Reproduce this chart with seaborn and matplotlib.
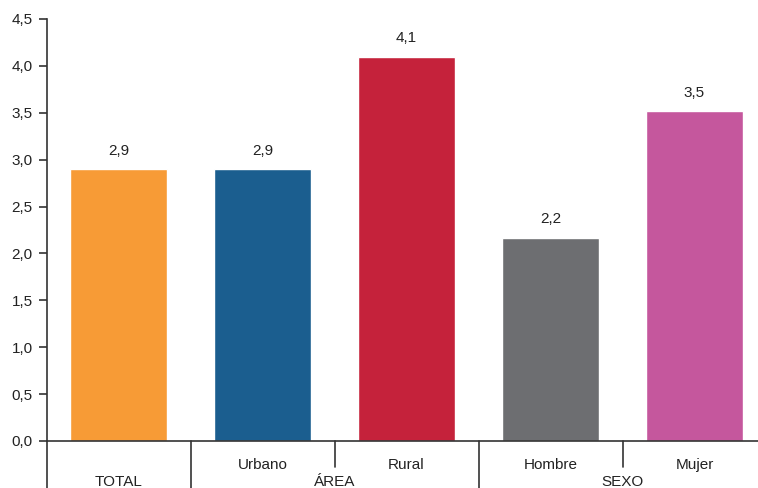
import numpy as np
import pandas as pd
import seaborn as sns
import matplotlib.pyplot as plt
import matplotlib.transforms as mtransforms

categories = ["TOTAL", "Urbano", "Rural", "Hombre", "Mujer"]
values = [2.9, 2.9, 4.1, 2.17, 3.52]
tick_labels = ["", "Urbano", "Rural", "Hombre", "Mujer"]
colors = ["#F79B36", "#1B5E8F", "#C5223B", "#6D6E71", "#C5579D"]
groups = [("TOTAL", 0.0), ("ÁREA", 1.5), ("SEXO", 3.5)]

sns.set_theme(style="white")
plt.rcParams["font.family"] = ["Liberation Sans", "DejaVu Sans"]

df = pd.DataFrame({"cat": categories, "val": values})

fig = plt.figure(figsize=(7.58, 4.88), dpi=100)
ax = fig.add_axes([46.5 / 758, 47 / 488, 720 / 758, 422 / 488])

sns.barplot(data=df, x="cat", y="val", hue="cat", palette=colors,
            width=0.667, legend=False, ax=ax, saturation=1)

fs = 11
ax.set_xlim(-0.5, 4.5)
ax.set_ylim(0, 4.5)
ax.set_yticks(np.arange(0, 4.51, 0.5))
ax.set_yticklabels([f"{v:.1f}".replace(".", ",") for v in np.arange(0, 4.51, 0.5)],
                   fontsize=fs, color="#222222")
ax.set_xticks(range(len(categories)))
ax.set_xticklabels(tick_labels, fontsize=fs, color="#222222")
ax.tick_params(axis="x", length=0, pad=12)
ax.tick_params(axis="y", length=6, width=1.2, color="#333333", direction="out", left=True, pad=4)
ax.set_xlabel("")
ax.set_ylabel("")

for side in ["top", "right"]:
    ax.spines[side].set_visible(False)
for side in ["left", "bottom"]:
    ax.spines[side].set_color("#333333")
    ax.spines[side].set_linewidth(1.2)

for i, v in enumerate(values):
    ax.text(i, v + 0.12, f"{v:.1f}".replace(".", ","), ha="center", va="bottom",
            fontsize=fs, color="#222222")

trans = mtransforms.blended_transform_factory(ax.transData, ax.transAxes)
for x, bottom in [(-0.5, -0.115), (0.5, -0.115), (1.5, -0.062), (2.5, -0.115), (3.5, -0.062)]:
    ax.plot([x, x], [0, bottom], transform=trans, color="#333333", lw=1.2, clip_on=False)

for name, x in groups:
    ax.text(x, -0.097, name, transform=trans, ha="center", va="center",
            fontsize=fs, color="#222222")

fig.savefig("out.png", dpi=100)
